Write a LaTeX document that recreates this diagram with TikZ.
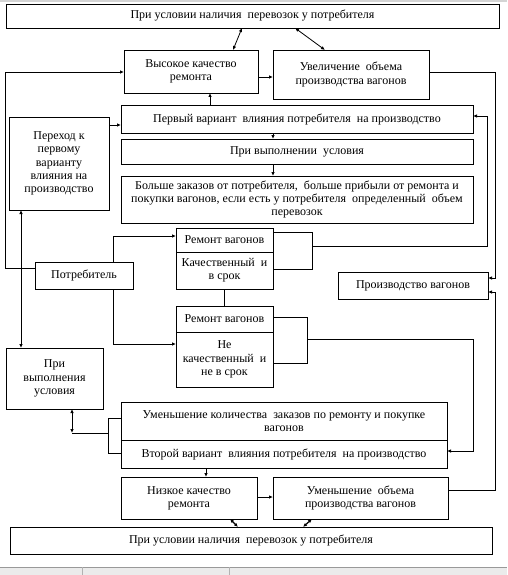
\documentclass[tikz,border=0pt]{standalone}
\usepackage{fontspec}
\setmainfont{Liberation Serif}
\usetikzlibrary{arrows.meta}
\tikzset{
  box/.style={draw, line width=0.8pt, inner sep=1pt, outer sep=0pt, align=center,
    font=\fontsize{12}{13.3}\selectfont},
  conn/.style={line width=0.8pt},
  arr/.style={conn, -{Latex[length=4pt,width=3.5pt]}},
  dbl/.style={conn, {Latex[length=4pt,width=3.5pt]}-{Latex[length=4pt,width=3.5pt]}},
}
\newcommand\bx[6]{%
  \pgfmathsetmacro\bxw{#4-#2}\pgfmathsetmacro\bxh{#5-#3}%
  \node[box, minimum width=\bxw pt, minimum height=\bxh pt]
    (#1) at ({(#2+#4)/2},{(#3+#5)/2}) {#6};}
\begin{document}
\begin{tikzpicture}[x=1pt,y=-1pt]
\useasboundingbox (0,0) rectangle (507,575);
% screenshot frame
\fill[black!17] (0,0) rectangle (507,2);
\fill[black!8] (0,567) rectangle (507,575);
\draw[black!40, line width=0.8pt] (0,567) -- (507,567);
\draw[black!30, line width=0.6pt] (82,567) -- (82,575) (229,567) -- (229,575);

\bx{top}{6}{4}{499}{28}{При условии наличия\ \ перевозок у потребителя}
\bx{vys}{124}{50}{258}{93}{Высокое качество\\ремонта}
\bx{uvel}{273}{50}{429}{99}{Увеличение\ \ объема\\производства вагонов}
\bx{perv}{121}{105}{473}{133}{Первый вариант\ \ влияния потребителя\ \ на производство}
\bx{pvu}{121}{139}{473}{164}{При выполнении\ \ условия}
\bx{bol}{121}{176}{473}{223}{Больше заказов от потребителя,\ \ больше прибыли от ремонта и\\покупки вагонов, если есть у потребителя\ \ определенный\ \ объем\\перевозок}
\bx{perehod}{9}{117}{109}{210}{Переход к\\первому\\варианту\\влияния на\\производство}
\bx{remA}{176}{228}{273}{252}{Ремонт вагонов}
\bx{remB}{176}{252}{273}{289}{Качественный\ \ и\\в срок}
\bx{remC}{176}{306}{273}{332}{Ремонт вагонов}
\bx{remD}{176}{332}{273}{387}{Не\\качественный\ \ и\\не в срок}
\bx{potr}{35}{262}{133}{289}{Потребитель}
\bx{proizv}{338}{272}{488}{299}{Производство вагонов}
\bx{pvu2}{6}{348}{103}{409}{При\\выполнения\\условия}
\bx{umen}{121}{402}{447}{440}{Уменьшение количества\ \ заказов по ремонту и покупке\\вагонов}
\bx{vtor}{121}{440}{447}{468}{Второй вариант\ \ влияния потребителя\ \ на производство}
\bx{niz}{121}{477}{257}{519}{Низкое качество\\ремонта}
\bx{umob}{273}{477}{448}{519}{Уменьшение\ \ объема\\производства вагонов}
\bx{bot}{10}{527}{492}{554}{При условии наличия\ \ перевозок у потребителя}

% coordinates for free bends
\coordinate (b1) at (312,246);
\coordinate (b2) at (307,339);
\coordinate (b3) at (108,433);
\coordinate (c3) at (72,433);

% top arrows
\draw[dbl] (242,0 |- top.south) -- (233,0 |- vys.north);
\draw[dbl] (295,0 |- top.south) -- (325,0 |- uvel.north);
% left loop potr -> vys
\draw[arr] (potr.west |- 0,268) -- (5,268) -- (5,72) -- (vys.west |- 0,72);
% vys -> uvel
\draw[arr] (vys.east |- 0,77) -- (uvel.west |- 0,77);
% uvel -> proizv
\draw[arr] (uvel.east |- 0,72) -- (495,72) -- (495,278) -- (proizv.east |- 0,278);
% perv -> vys
\draw[arr] (210,0 |- perv.north) -- (210,0 |- vys.south);
% perehod -> perv
\draw[arr] (perehod.east |- 0,125) -- (perv.west |- 0,125);
% chain
\draw[arr] (273,0 |- perv.south) -- (273,0 |- pvu.north);
\draw[arr] (273,0 |- pvu.south) -- (273,0 |- bol.north);
% perehod <-> pvu2
\draw[dbl] (21,0 |- perehod.south) -- (21,0 |- pvu2.north);
% potr -> rem
\draw[arr] (113,0 |- potr.north) -- (113,236) -- (remA.west |- 0,236);
\draw[arr] (113,0 |- potr.south) -- (113,344) -- (remD.west |- 0,344);
% rem1 bracket
\draw[conn] (remA.east |- 0,232) -- (312,232) -- (312,269) -- (remB.east |- 0,269);
\draw[arr] (b1) -- (487,246) -- (487,116) -- (perv.east |- 0,116);
% rem1 -- rem2
\draw[conn] (224,0 |- remB.south) -- (224,0 |- remC.north);
% rem2 bracket
\draw[conn] (remC.east |- 0,317) -- (307,317) -- (307,363) -- (remD.east |- 0,363);
\draw[arr] (b2) -- (473,339) -- (473,451) -- (vtor.east |- 0,451);
% umob -> proizv
\draw[arr] (umob.east |- 0,490) -- (495,490) -- (495,292) -- (proizv.east |- 0,292);
% umen bracket
\draw[conn] (umen.west |- 0,418) -- (108,418) -- (108,453) -- (vtor.west |- 0,453);
\draw[conn] (b3) -- (c3);
\draw[dbl] (72,0 |- pvu2.south) -- (c3);
% vtor -> niz
\draw[arr] (206,0 |- vtor.south) -- (206,0 |- niz.north);
% niz -> umob
\draw[arr] (niz.east |- 0,497) -- (umob.west |- 0,497);
% bottom double arrows
\draw[dbl, line width=1.2pt] (230,0 |- niz.south) -- (238,0 |- bot.north);
\draw[dbl, line width=1.2pt] (312,0 |- umob.south) -- (303,0 |- bot.north);
\end{tikzpicture}
\end{document}
